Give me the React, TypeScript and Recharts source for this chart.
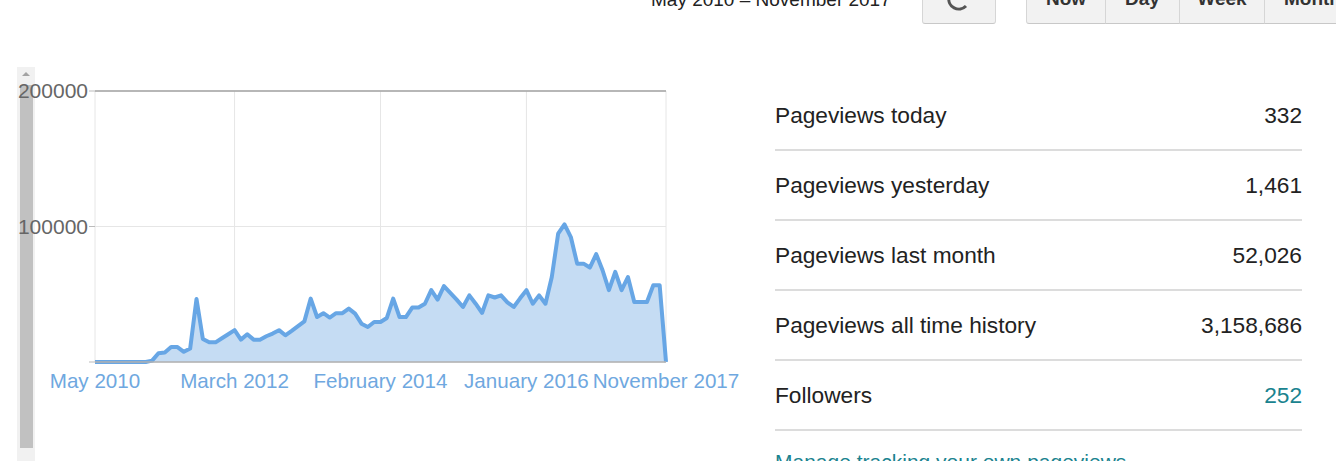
import React from "react";
import {
  AreaChart, Area, XAxis, YAxis, CartesianGrid, ReferenceLine,
} from "recharts";

// monthly pageviews, May 2010 .. November 2017
const months = [
  "May 2010", "June 2010", "July 2010", "August 2010", "September 2010", "October 2010", "November 2010", "December 2010",
  "January 2011", "February 2011", "March 2011", "April 2011", "May 2011", "June 2011", "July 2011", "August 2011", "September 2011", "October 2011", "November 2011", "December 2011",
  "January 2012", "February 2012", "March 2012", "April 2012", "May 2012", "June 2012", "July 2012", "August 2012", "September 2012", "October 2012", "November 2012", "December 2012",
  "January 2013", "February 2013", "March 2013", "April 2013", "May 2013", "June 2013", "July 2013", "August 2013", "September 2013", "October 2013", "November 2013", "December 2013",
  "January 2014", "February 2014", "March 2014", "April 2014", "May 2014", "June 2014", "July 2014", "August 2014", "September 2014", "October 2014", "November 2014", "December 2014",
  "January 2015", "February 2015", "March 2015", "April 2015", "May 2015", "June 2015", "July 2015", "August 2015", "September 2015", "October 2015", "November 2015", "December 2015",
  "January 2016", "February 2016", "March 2016", "April 2016", "May 2016", "June 2016", "July 2016", "August 2016", "September 2016", "October 2016", "November 2016", "December 2016",
  "January 2017", "February 2017", "March 2017", "April 2017", "May 2017", "June 2017", "July 2017", "August 2017", "September 2017", "October 2017", "November 2017",
];

const pageviews = [
  0, 0, 0, 0, 0, 0, 0, 0,
  0, 1000, 6500, 7000, 11000, 11000, 7500, 10000, 46500, 17000, 14500, 14500,
  17500, 20500, 23500, 16500, 20500, 16500, 16500, 19000, 21000, 23500, 19700, 23000,
  26500, 30000, 46800, 33200, 36000, 32800, 36000, 36000, 39400, 35700, 28300, 25800,
  29500, 29500, 32500, 46800, 33200, 33200, 40200, 40200, 43000, 53000, 46000, 56000,
  51000, 46000, 40600, 49200, 43000, 36200, 49200, 47600, 49200, 44000, 40600, 47000,
  53000, 43000, 49200, 43000, 62700, 94700, 101600, 92200, 72600, 72600, 69700, 79600,
  67700, 53000, 66500, 53000, 62700, 44300, 44300, 44300, 56700, 56700, 0,
];

const xTicks = ["May 2010", "March 2012", "February 2014", "January 2016", "November 2017"];
const yTicks = [0, 100000, 200000];

const statLabels = ["Pageviews today", "Pageviews yesterday", "Pageviews last month", "Pageviews all time history", "Followers"];
const statValues = ["332", "1,461", "52,026", "3,158,686", "252"];

const rangeButtons = ["Now", "Day", "Week", "Month"];
const rangeWidths = [79, 74, 85, 96];

const chartData = months.map((m, i) => ({ month: m, views: pageviews[i] }));

const FONT = "'Liberation Sans', Arial, sans-serif";
const TEAL = "#1a838f";

export default function App() {
  let bx = 1026;
  return (
    <div style={{ position: "fixed", left: 0, top: 0, width: 1336, height: 461, overflow: "hidden", background: "#fff", fontFamily: FONT }}>
      {/* header: date range + buttons, cut off at top */}
      <div style={{ position: "absolute", left: 651, top: -10, fontSize: 19, lineHeight: "19px", color: "#222", whiteSpace: "nowrap" }}>
        May 2010 – November 2017
      </div>
      <div style={{ position: "absolute", left: 922, top: -30, width: 72, height: 52, border: "1px solid #d6d6d6", borderBottomColor: "#c8c8c8", borderRadius: 3, background: "#f2f2f2" }}>
        <svg width={74} height={54} style={{ position: "absolute", left: -1, top: -1 }}>
          <path d="M 27 27 A 10 10 0 0 0 44 36" fill="none" stroke="#555" strokeWidth={3} />
        </svg>
      </div>
      {rangeButtons.map((b, i) => {
        const left = bx;
        bx += rangeWidths[i];
        return (
          <div key={b} style={{ position: "absolute", left, top: -30, width: rangeWidths[i] - 1, height: 52, border: "1px solid #d6d6d6", borderBottomColor: "#c8c8c8", borderRadius: i === 0 ? "3px 0 0 3px" : 0, background: "#f2f2f2" }}>
            <div style={{ position: "absolute", left: 0, right: 0, top: 18, textAlign: "center", fontSize: 19, lineHeight: "19px", fontWeight: "bold", color: "#333" }}>{b}</div>
          </div>
        );
      })}

      {/* scrollbar on the left */}
      <div style={{ position: "absolute", left: 17, top: 67, width: 18, height: 400, background: "#f1f1f1" }} />
      <div style={{ position: "absolute", left: 20, top: 85, width: 13, height: 363, background: "#c1c1c1" }} />
      <div style={{ position: "absolute", left: 22, top: 72, width: 0, height: 0, borderLeft: "4px solid transparent", borderRight: "4px solid transparent", borderBottom: "4px solid #a3a3a3" }} />

      {/* chart */}
      <div style={{ position: "absolute", left: 0, top: 0 }}>
        <AreaChart width={760} height={420} data={chartData} margin={{ top: 91, right: 94, left: 0, bottom: 28 }}>
          <CartesianGrid stroke="#e6e6e6" />
          <XAxis
            dataKey="month"
            ticks={xTicks}
            interval={0}
            tickLine={false}
            axisLine={{ stroke: "#b0b0b0", strokeWidth: 1.5 }}
            tick={{ fill: "#6fa8e0", fontSize: 20.6, fontFamily: FONT }}
            tickMargin={5}
            height={30}
          />
          <YAxis
            domain={[0, 200000]}
            ticks={yTicks}
            tickFormatter={(v: number) => (v === 0 ? "" : String(v))}
            axisLine={false}
            tickLine={{ stroke: "#bbb" }}
            tickSize={6}
            tickMargin={1}
            width={95}
            tick={{ fill: "#666", fontSize: 21, fontFamily: FONT }}
          />
          <Area
            type="linear"
            dataKey="views"
            stroke="#67a6e5"
            strokeWidth={4}
            strokeLinejoin="round"
            fill="#c5dcf3"
            fillOpacity={1}
            dot={false}
            activeDot={false}
            isAnimationActive={false}
          />
          <ReferenceLine y={200000} stroke="#a3a3a3" strokeWidth={1.5} />
        </AreaChart>
      </div>

      {/* stats table */}
      {statLabels.map((label, i) => (
        <React.Fragment key={label}>
          <div style={{ position: "absolute", left: 775, top: 102 + i * 70, fontSize: 22.7, lineHeight: "26px", color: "#222", whiteSpace: "nowrap" }}>{label}</div>
          <div style={{ position: "absolute", right: 1336 - 1302, top: 102 + i * 70, fontSize: 22.7, lineHeight: "26px", color: i === 4 ? TEAL : "#222", whiteSpace: "nowrap" }}>{statValues[i]}</div>
          <div style={{ position: "absolute", left: 775, top: 149 + i * 70, width: 527, height: 2, background: "#dcdcdc" }} />
        </React.Fragment>
      ))}
      <div style={{ position: "absolute", left: 775, top: 449, fontSize: 21, lineHeight: "26px", color: TEAL, whiteSpace: "nowrap" }}>
        Manage tracking your own pageviews
      </div>
    </div>
  );
}
